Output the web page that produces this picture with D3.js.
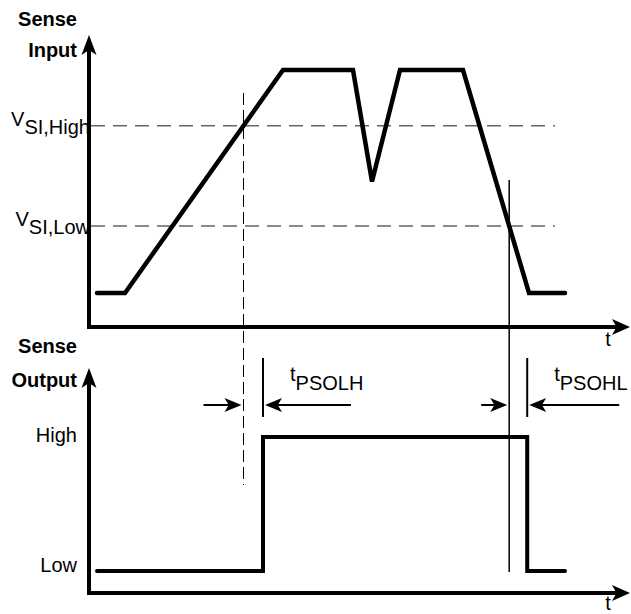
<!DOCTYPE html>
<html>
<head>
<meta charset="utf-8">
<script src="https://cdn.jsdelivr.net/npm/d3@7"></script>
<style>
  body { margin: 0; background: #fff; }
  text { font-family: "Liberation Sans", Arial, sans-serif; fill: #000; }
</style>
</head>
<body>
<svg id="chart"></svg>
<script>
// sense input waveform (time in arbitrary units, level 0 = low, 1 = high)
const inputT = [1.6, 7.2, 38.8, 52.8, 56.6, 62.2, 74.8, 88, 95.2];
const inputLevel = [0, 0, 1, 1, 0.5, 1, 1, 0, 0];

// switching thresholds
const thresholdLevel = [0.75, 0.3];
const thresholdSub = ['SI,High', 'SI,Low'];

// propagation delays, rising then falling
const delays = [3.9, 3.6];
const delaySub = ['PSOLH', 'PSOHL'];

const outputLevelNames = ['Low', 'High'];
const tEnd = 95.2;
const thresholdEnd = 93.2;

const W = 631, H = 614;
const svg = d3.select('#chart').attr('width', W).attr('height', H);

const x = d3.scaleLinear().domain([0, 108.2]).range([89, 630]);
const yIn = d3.scaleLinear().domain([0, 1]).range([293, 70]);
const yOut = d3.scaleLinear().domain([0, 1]).range([571, 437]);

const AXIS_X = x(0);
const IN_BASE = 327, IN_TOP = 35;
const OUT_BASE = 593, OUT_TOP = 368;

function arrowHead(tx, ty, dir, len, half) {
    // dir: 'up', 'right', 'left'
    const p = d3.path();
    if (dir === 'up') {
        p.moveTo(tx, ty);
        p.lineTo(tx + half, ty + len);
        p.lineTo(tx, ty + len * 0.75);
        p.lineTo(tx - half, ty + len);
    } else {
        const s = dir === 'right' ? -1 : 1;
        p.moveTo(tx, ty);
        p.lineTo(tx + s * len, ty - half);
        p.lineTo(tx + s * len * 0.75, ty);
        p.lineTo(tx + s * len, ty + half);
    }
    p.closePath();
    return p.toString();
}

function drawAxes(base, top) {
    svg.append('path')
        .attr('d', `M${AXIS_X},${top + 12}V${base}H${x(108.2) - 12}`)
        .attr('fill', 'none').attr('stroke', '#000').attr('stroke-width', 4);
    svg.append('path').attr('d', arrowHead(AXIS_X, top, 'up', 20, 7.5)).attr('fill', '#000');
    svg.append('path').attr('d', arrowHead(x(108.2), base, 'right', 18, 8)).attr('fill', '#000');
    svg.append('text').attr('x', 608).attr('y', Math.min(base + 19, H - 4))
        .attr('text-anchor', 'middle').style('font-size', '20px').text('t');
}

drawAxes(IN_BASE, IN_TOP);
drawAxes(OUT_BASE, OUT_TOP);

// panel titles
[['Sense', 'Input', 26, 57], ['Sense', 'Output', 353, 387]].forEach(([a, b, y1, y2]) => {
    svg.append('text').attr('x', 77).attr('y', y1).attr('text-anchor', 'end')
        .style('font-size', '20px').style('font-weight', 'bold').text(a);
    svg.append('text').attr('x', 77).attr('y', y2).attr('text-anchor', 'end')
        .style('font-size', '20px').style('font-weight', 'bold').text(b);
});

// threshold lines
thresholdLevel.forEach((lv, i) => {
    svg.append('line')
        .attr('x1', AXIS_X + 2).attr('x2', x(thresholdEnd))
        .attr('y1', yIn(lv)).attr('y2', yIn(lv))
        .attr('stroke', '#666').attr('stroke-width', 1.5)
        .attr('stroke-dasharray', '14,8');
    const t = svg.append('text').attr('x', 90).attr('y', yIn(lv))
        .attr('text-anchor', 'end').style('font-size', '20px');
    t.append('tspan').text('V');
    t.append('tspan').attr('dy', 8).text(thresholdSub[i]);
});

// crossing times of the input with the thresholds
function crossing(level, rising) {
    for (let i = 0; i < inputT.length - 1; i++) {
        const a = inputLevel[i], b = inputLevel[i + 1];
        if (rising && a < level && b >= level || !rising && a > level && b <= level) {
            return inputT[i] + (level - a) / (b - a) * (inputT[i + 1] - inputT[i]);
        }
    }
}
const tRiseCross = crossing(thresholdLevel[0], true);
const tFallCross = d3.max(inputT.map((_, i) => i).filter(i => i > 0 &&
    inputLevel[i - 1] > thresholdLevel[1] && inputLevel[i] <= thresholdLevel[1])
    .map(i => inputT[i - 1] + (thresholdLevel[1] - inputLevel[i - 1]) /
        (inputLevel[i] - inputLevel[i - 1]) * (inputT[i] - inputT[i - 1])));

const tOutRise = tRiseCross + delays[0];
const tOutFall = tFallCross + delays[1];

const outputT = [inputT[0], tOutRise, tOutRise, tOutFall, tOutFall, tEnd];
const outputLevel = [0, 0, 1, 1, 0, 0];

// reference lines at the threshold crossings
svg.append('line')
    .attr('x1', x(tRiseCross)).attr('x2', x(tRiseCross))
    .attr('y1', 93).attr('y2', 485)
    .attr('stroke', '#000').attr('stroke-width', 1)
    .attr('stroke-dasharray', '12,5');
svg.append('line')
    .attr('x1', x(tFallCross)).attr('x2', x(tFallCross))
    .attr('y1', 180).attr('y2', 572)
    .attr('stroke', '#000').attr('stroke-width', 1.5);

// waveforms
const lineIn = d3.line().x((d, i) => x(inputT[i])).y(d => yIn(d));
svg.append('path').attr('d', lineIn(inputLevel))
    .attr('fill', 'none').attr('stroke', '#000').attr('stroke-width', 4.5)
    .attr('stroke-linejoin', 'miter').attr('stroke-linecap', 'round');

const lineOut = d3.line().x((d, i) => x(outputT[i])).y(d => yOut(d));
svg.append('path').attr('d', lineOut(outputLevel))
    .attr('fill', 'none').attr('stroke', '#000').attr('stroke-width', 4)
    .attr('stroke-linejoin', 'miter').attr('stroke-linecap', 'round');

// output level names
outputLevelNames.forEach((name, i) => {
    svg.append('text').attr('x', 77).attr('y', yOut(i) + (i ? 5 : 1))
        .attr('text-anchor', 'end').style('font-size', '20px').text(name);
});

// delay dimension arrows
const ARROW_Y = 405;
[[tRiseCross, tOutRise, 40, 88], [tFallCross, tOutFall, 28, 92]].forEach(([tc, te, tail, lead], i) => {
    const xc = x(tc), xe = x(te);
    svg.append('line').attr('x1', xe).attr('x2', xe).attr('y1', 358).attr('y2', 417)
        .attr('stroke', '#000').attr('stroke-width', 2);
    svg.append('line').attr('x1', xc - tail).attr('x2', xc - 10)
        .attr('y1', ARROW_Y).attr('y2', ARROW_Y).attr('stroke', '#000').attr('stroke-width', 2);
    svg.append('path').attr('d', arrowHead(xc - 2, ARROW_Y, 'right', 17, 7)).attr('fill', '#000');
    svg.append('line').attr('x1', xe + 10).attr('x2', xe + lead)
        .attr('y1', ARROW_Y).attr('y2', ARROW_Y).attr('stroke', '#000').attr('stroke-width', 2);
    svg.append('path').attr('d', arrowHead(xe + 2, ARROW_Y, 'left', 17, 7)).attr('fill', '#000');
    const lab = svg.append('text').attr('x', xe + 27).attr('y', 381).style('font-size', '20px');
    lab.append('tspan').text('t');
    lab.append('tspan').attr('dy', 9).text(delaySub[i]);
});
</script>
</body>
</html>
